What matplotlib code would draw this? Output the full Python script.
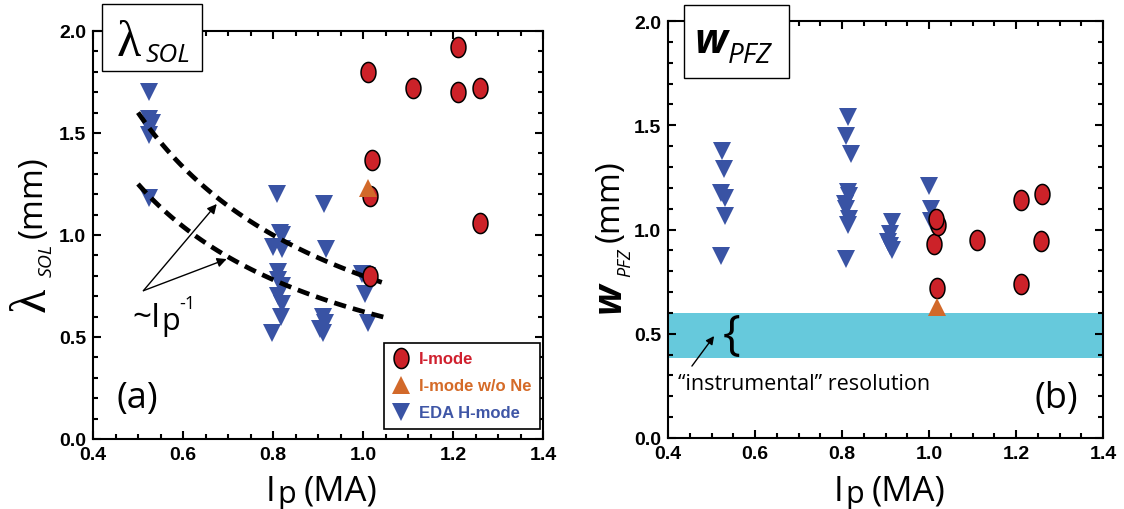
import numpy as np
import matplotlib.pyplot as plt
from matplotlib.patches import Rectangle
from matplotlib.ticker import MultipleLocator, FormatStrFormatter

plt.rcParams['font.family'] = ['Liberation Sans', 'DejaVu Sans']
plt.rcParams['font.weight'] = 'bold'

W, H = 1124, 510

# panel (a): lambda_SOL vs Ip
ip_imode_a = [1.015, 1.015, 1.02, 1.01, 1.11, 1.21, 1.21, 1.26, 1.26]
lam_imode_a = [0.80, 1.19, 1.37, 1.80, 1.72, 1.92, 1.70, 1.72, 1.06]
ip_none_a = [1.012]
lam_none_a = [1.23]
ip_eda_a = [0.525, 0.525, 0.53, 0.525, 0.525, 0.525,
            0.808, 0.815, 0.82, 0.80, 0.82, 0.81, 0.81, 0.82, 0.81, 0.82, 0.818, 0.797,
            0.913, 0.918, 0.91, 0.915, 0.905, 0.91,
            0.998, 1.008, 1.005, 1.01]
lam_eda_a = [1.70, 1.57, 1.55, 1.53, 1.49, 1.18,
             1.20, 1.01, 1.00, 0.94, 0.93, 0.82, 0.78, 0.75, 0.70, 0.66, 0.60, 0.52,
             1.15, 0.93, 0.60, 0.57, 0.54, 0.52,
             0.81, 0.80, 0.71, 0.57]

# ~Ip^-1 guide curves
ip_fit = np.linspace(0.5, 1.05, 60)
coef_hi = 0.80
coef_lo = 0.625

# panel (b): w_PFZ vs Ip
ip_imode_b = [1.018, 1.012, 1.021, 1.016, 1.11, 1.211, 1.26, 1.257, 1.212]
w_imode_b = [0.72, 0.93, 1.02, 1.05, 0.95, 1.14, 1.17, 0.945, 0.74]
ip_none_b = [1.018]
w_none_b = [0.627]
ip_eda_b = [0.525, 0.528, 0.522, 0.53, 0.53, 0.522,
            0.813, 0.81, 0.82, 0.813, 0.815, 0.808, 0.81, 0.815, 0.813, 0.809,
            0.915, 0.91, 0.905, 0.91, 0.915,
            1.0, 1.005, 1.005]
w_eda_b = [1.375, 1.29, 1.175, 1.15, 1.065, 0.875,
           1.54, 1.45, 1.36, 1.18, 1.16, 1.12, 1.10, 1.05, 1.02, 0.86,
           1.035, 0.98, 0.94, 0.92, 0.90,
           1.21, 1.10, 1.04]
res_lo, res_hi = 0.385, 0.60

red = '#cc2229'
orange = '#d2692a'
blue = '#3953a4'
cyan = '#66c9dc'

t = np.linspace(0, 2 * np.pi, 60)
ell = np.column_stack([0.74 * np.cos(t), np.sin(t)])


def fx(x):
    return x / W


def fy(y):
    return 1 - y / H


def style_axes(ax):
    ax.set_xlim(0.4, 1.4)
    ax.set_ylim(0, 2)
    ax.xaxis.set_major_locator(MultipleLocator(0.2))
    ax.xaxis.set_minor_locator(MultipleLocator(0.05))
    ax.yaxis.set_major_locator(MultipleLocator(0.5))
    ax.yaxis.set_minor_locator(MultipleLocator(0.1))
    ax.xaxis.set_major_formatter(FormatStrFormatter('%.1f'))
    ax.yaxis.set_major_formatter(FormatStrFormatter('%.1f'))
    ax.tick_params(which='both', direction='in', top=True, right=True, width=1.5,
                   labelsize=14)
    ax.tick_params(which='major', length=6)
    ax.tick_params(which='minor', length=3.5)
    ax.tick_params(axis='x', pad=5)
    ax.tick_params(axis='y', pad=5)
    for s in ax.spines.values():
        s.set_linewidth(1.5)


def draw_series(ax, ipe, ye, ipi, yi, ipn, yn):
    he, = ax.plot(ipe, ye, ls='none', marker='v', ms=13.5, mfc=blue, mec=blue,
                  mew=0, zorder=3)
    hi, = ax.plot(ipi, yi, ls='none', marker=ell, ms=14.5, mfc=red, mec='k',
                  mew=1.1, zorder=5)
    hn, = ax.plot(ipn, yn, ls='none', marker='^', ms=13.5, mfc=orange, mec=orange,
                  mew=0, zorder=6)
    return hi, hn, he


fig = plt.figure(figsize=(W / 100, H / 100), dpi=100)
ax1 = fig.add_axes([93 / W, 70 / H, 450 / W, 408 / H])
ax2 = fig.add_axes([668 / W, 71 / H, 435 / W, 417 / H])

# ---- panel (a)
style_axes(ax1)
hi, hn, he = draw_series(ax1, ip_eda_a, lam_eda_a, ip_imode_a, lam_imode_a,
                         ip_none_a, lam_none_a)
for c in (coef_hi, coef_lo):
    ax1.plot(ip_fit, c / ip_fit, color='k', lw=3.4, ls='--', dashes=(2.6, 1.5),
             zorder=4)
for head in [(0.675, 1.152), (0.697, 0.882)]:
    ax1.annotate('', xy=head, xytext=(0.512, 0.727),
                 arrowprops=dict(arrowstyle='-|>', color='k', lw=1.0,
                                 mutation_scale=14, shrinkA=0, shrinkB=0))

leg = ax1.legend(handles=[hi, hn, he], labels=['I-mode', 'I-mode w/o Ne', 'EDA H-mode'],
                 loc='lower right', bbox_to_anchor=(0.993, 0.025), borderaxespad=0,
                 fancybox=False, edgecolor='k', framealpha=1, numpoints=1,
                 prop=dict(family='Liberation Sans', weight='bold', size=12),
                 handlelength=1.0, handletextpad=0.6, labelspacing=0.72,
                 borderpad=0.5)
leg.get_frame().set_linewidth(1.2)
for txt, c in zip(leg.get_texts(), ['#d0202e', '#d56b28', '#3f56a6']):
    txt.set_color(c)

# ---- panel (b)
style_axes(ax2)
ax2.axhspan(res_lo, res_hi, color=cyan, lw=0, zorder=0)
draw_series(ax2, ip_eda_b, w_eda_b, ip_imode_b, w_imode_b, ip_none_b, w_none_b)
ax2.annotate('', xy=(0.506, 0.489), xytext=(0.455, 0.345),
             arrowprops=dict(arrowstyle='-|>', color='k', lw=1.0,
                             mutation_scale=12, shrinkA=0, shrinkB=0))

# ---- texts
sans = 'Open Sans'
fig.text(fx(117), fy(408), '(a)', family=sans, weight='normal', size=26)
fig.text(fx(1035), fy(408), '(b)', family=sans, weight='normal', size=26)

for x0 in (266, 834):
    fig.text(fx(x0), fy(501), 'I', family=sans, weight='normal', size=25)
    fig.text(fx(x0 + 11), fy(503), 'p', family=sans, weight='normal', size=22)
    fig.text(fx(x0 + 38), fy(501), '(MA)', family=sans, weight='normal', size=25)

rot = dict(rotation=90, rotation_mode='anchor', ha='left', va='baseline')
# left y label
fig.text(fx(45), fy(312), '\u03bb', family='Liberation Serif', weight='normal',
         size=36, **rot)
fig.text(fx(52), fy(277), 'SOL', family=sans, weight='normal', style='italic',
         size=14, **rot)
fig.text(fx(42), fy(238), '(mm)', family=sans, weight='normal', size=24, **rot)
# right y label
fig.text(fx(620), fy(313), 'w', family=sans, weight='bold', style='italic',
         size=28, **rot)
fig.text(fx(630), fy(277), 'PFZ', family=sans, weight='normal', style='italic',
         size=13, **rot)
fig.text(fx(619), fy(242), '(mm)', family=sans, weight='normal', size=24, **rot)

# ~Ip^-1 note
fig.text(fx(132), fy(327), '~I', family=sans, weight='normal', size=24)
fig.text(fx(161), fy(330), 'p', family=sans, weight='normal', size=22)
fig.text(fx(179), fy(309), '-1', family=sans, weight='normal', size=13)

# resolution note
fig.text(fx(678), fy(390), '\u201cinstrumental\u201d resolution', family=sans,
         weight='normal', size=15.5)
fig.text(fx(732), fy(336), '{', family=sans, weight='normal', size=34,
         ha='center', va='center')

# title boxes
fig.patches.append(Rectangle((fx(102), fy(72)), 100 / W, 67 / H, transform=fig.transFigure,
                             facecolor='white', edgecolor='k', lw=1.0, zorder=5))
fig.patches.append(Rectangle((fx(684), fy(79)), 105 / W, 73 / H, transform=fig.transFigure,
                             facecolor='white', edgecolor='k', lw=1.0, zorder=5))
fig.text(fx(117), fy(56), '\u03bb', family='Liberation Serif', weight='normal',
         size=36, zorder=6)
fig.text(fx(145), fy(62), 'SOL', family=sans, weight='normal', style='italic',
         size=19, zorder=6)
fig.text(fx(694), fy(53), 'w', family=sans, weight='bold', style='italic',
         size=30, zorder=6)
fig.text(fx(728), fy(63), 'PFZ', family=sans, weight='normal', style='italic',
         size=20, zorder=6)

fig.savefig('out.png', dpi=100)
